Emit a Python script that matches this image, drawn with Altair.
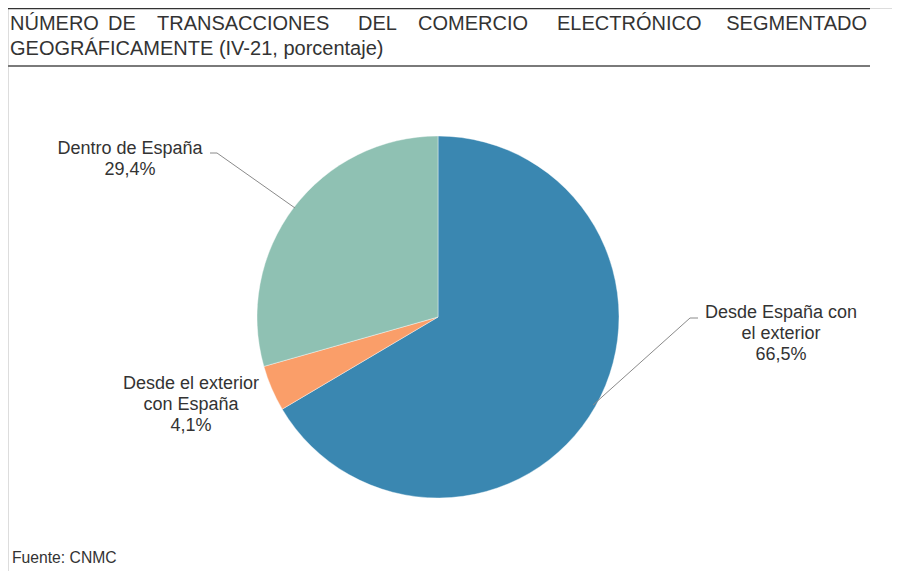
import altair as alt
import pandas as pd

# pie data (IV-21, porcentaje)
categories = ["Desde España con el exterior", "Desde el exterior con España", "Dentro de España"]
shares = [66.5, 4.1, 29.4]
colors = ["#3a87b1", "#fa9e69", "#8fc1b3"]
label_lines = [["Desde España con", "el exterior"], ["Desde el exterior", "con España"], ["Dentro de España"]]

title_words = ["NÚMERO", "DE", "TRANSACCIONES", "DEL", "COMERCIO", "ELECTRÓNICO", "SEGMENTADO"]
title_line2 = "GEOGRÁFICAMENTE (IV-21, porcentaje)"
source = "Fuente: CNMC"

FONT = "Liberation Sans"
TXT = "#333333"

df = pd.DataFrame({"segmento": categories, "pct": shares, "orden": list(range(len(categories)))})
one = pd.DataFrame({"k": [0]})

pie = alt.Chart(df).mark_arc(radius=181, stroke="white", strokeWidth=0.4).encode(
    theta=alt.Theta("pct:Q", stack=True),
    color=alt.Color("segmento:N", scale=alt.Scale(domain=categories, range=colors), legend=None),
    order=alt.Order("orden:Q"),
    x=alt.value(430),
    y=alt.value(309),
)

layers = [pie]


def txt(s, x, y, size, align="left", color=TXT):
    return alt.Chart(one).mark_text(
        font=FONT, fontSize=size, align=align, baseline="alphabetic", color=color
    ).encode(x=alt.value(x), y=alt.value(y), text=alt.value(s))


def seg(x1, y1, x2, y2, color="#8a8a8a", w=1.0):
    return alt.Chart(one).mark_rule(color=color, strokeWidth=w).encode(
        x=alt.value(x1), y=alt.value(y1), x2=alt.value(x2), y2=alt.value(y2)
    )


# title, spread out like justified text
word_x = [2, 100, 149, 350, 410, 549]
for w, x in zip(title_words[:-1], word_x):
    layers.append(txt(w, x, 22, 20))
layers.append(txt(title_words[-1], 859, 22, 20, align="right"))
layers.append(txt(title_line2, 2, 47, 20))
layers.append(seg(0, 0.5, 862, 0.5, color="#333333", w=1.3))
layers.append(seg(0, 58, 862, 58, color="#7a7a7a", w=2))

# slice labels
pct_txt = [f"{v:.1f}".replace(".", ",") + "%" for v in shares]
label_pos = [(773, 310), (183, 381), (122, 146)]
for lines, p, (x, y) in zip(label_lines, pct_txt, label_pos):
    for i, s in enumerate(lines + [p]):
        layers.append(txt(s, x, y + 21 * i, 18, align="center"))

# leader lines
layers.append(seg(202, 145, 209, 145))
layers.append(seg(209, 145, 287, 200))
layers.append(seg(585, 397, 682, 310))
layers.append(seg(682, 310, 690, 310))

layers.append(txt(source, 4, 555, 15.7))

chart = alt.layer(*layers).properties(
    width=884, height=563, padding=0, autosize=alt.AutoSizeParams(type="none")
).configure_view(stroke=None).configure(background="white")

chart.save("out.html", embed_options={"renderer": "svg", "actions": False})
